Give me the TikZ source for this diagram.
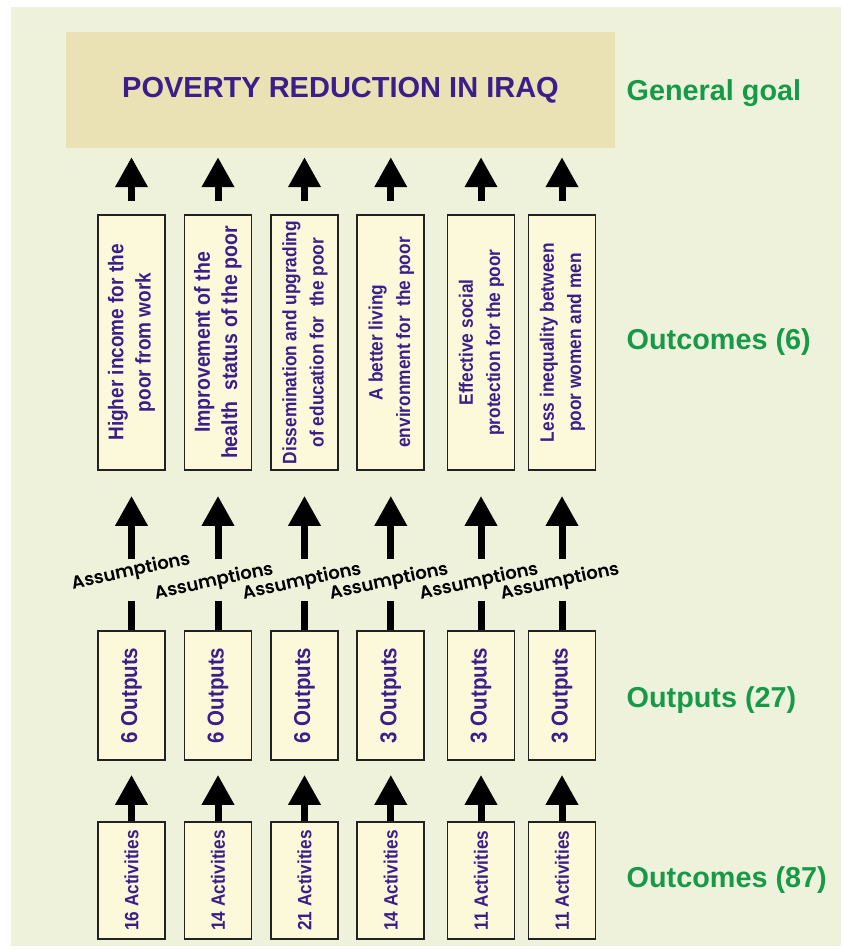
\documentclass[tikz,border=0pt]{standalone}
\usepackage{fontspec}
\setmainfont{Liberation Sans}
\newfontfamily\asmfont{Poppins SemiBold}
\usetikzlibrary{arrows.meta}
\definecolor{panel}{HTML}{EEF2DA}
\definecolor{goalfill}{HTML}{EAE2B4}
\definecolor{boxfill}{HTML}{FCF9DA}
\definecolor{txtpurple}{HTML}{3B1E8A}
\definecolor{lblgreen}{HTML}{17994A}
\definecolor{boxline}{HTML}{222222}
\newcommand\mytwoline[3]{\rotatebox{90}{\scalebox{1}[1.12]{\fontsize{#1}{24.5}\selectfont\bfseries\begin{tabular}{@{}c@{}}#2\\#3\end{tabular}}}}
\newcommand\myoneline[2]{\rotatebox{90}{\scalebox{1}[1.12]{\fontsize{#1}{24}\selectfont\bfseries #2}}}
\begin{document}
\begin{tikzpicture}[x=1pt,y=-1pt,
  obox/.style={draw=boxline, line width=1.8pt, fill=boxfill, minimum width=67pt, inner sep=0pt, text=txtpurple},
  upar/.style={line width=7pt, draw=black, -{Triangle[width=31pt,length=30pt]}},
  shaftline/.style={line width=7pt, draw=black},
  lvl/.style={anchor=base west, inner sep=0pt, text=lblgreen, font=\fontsize{28.8}{30}\selectfont\bfseries},
  asm/.style={rotate=12, inner sep=0pt, font=\asmfont\fontsize{18}{20}\selectfont}]
\useasboundingbox (0,0) rectangle (841,950);
\fill[white] (0,0) rectangle (841,950);
\fill[panel] (11,7) rectangle (841,946);
% goal
\node[fill=goalfill, minimum width=549pt, minimum height=116pt, inner sep=0pt,
      text=txtpurple, font=\fontsize{29}{30}\selectfont\bfseries] (goal) at (340.5,90) {POVERTY REDUCTION IN IRAQ};
% level labels
\node[lvl] (lg) at (626.5,100) {General goal};
\node[lvl] (lo) at (626.5,349) {Outcomes (6)};
\node[lvl] (lp) at (626.5,707) {Outputs (27)};
\node[lvl] (la) at (626.5,887) {Outcomes (87)};
% outcomes
\node[obox, minimum height=255pt] (c1) at (131.5,342.5) {\mytwoline{19}{Higher income for the}{poor from work}};
\node[obox, minimum height=255pt] (c2) at (218,342.5) {\mytwoline{19.5}{Improvement of the}{health\ \ status of the poor}};
\node[obox, minimum height=255pt] (c3) at (304.5,342.5) {\mytwoline{17.3}{Dissemination and upgrading}{of education for\ \ the poor}};
\node[obox, minimum height=255pt] (c4) at (390.8,342.5) {\mytwoline{17.3}{A better living}{environment for\ \ the poor}};
\node[obox, minimum height=255pt] (c5) at (481,342.5) {\mytwoline{17.3}{Effective social}{protection for the poor}};
\node[obox, minimum height=255pt] (c6) at (562,342.5) {\mytwoline{17.3}{Less inequality between}{poor women and men}};
% outputs
\node[obox, minimum height=129pt] (p1) at (131.5,695.5) {\myoneline{20.5}{6 Outputs}};
\node[obox, minimum height=129pt] (p2) at (218,695.5) {\myoneline{20.5}{6 Outputs}};
\node[obox, minimum height=129pt] (p3) at (304.5,695.5) {\myoneline{20.5}{6 Outputs}};
\node[obox, minimum height=129pt] (p4) at (390.8,695.5) {\myoneline{20.5}{3 Outputs}};
\node[obox, minimum height=129pt] (p5) at (481,695.5) {\myoneline{20.5}{3 Outputs}};
\node[obox, minimum height=129pt] (p6) at (562,695.5) {\myoneline{20.5}{3 Outputs}};
% activities
\node[obox, minimum height=117pt] (a1) at (131.5,880.5) {\myoneline{17.2}{16 Activities}};
\node[obox, minimum height=117pt] (a2) at (218,880.5) {\myoneline{17.2}{14 Activities}};
\node[obox, minimum height=117pt] (a3) at (304.5,880.5) {\myoneline{17.2}{21 Activities}};
\node[obox, minimum height=117pt] (a4) at (390.8,880.5) {\myoneline{17.2}{14 Activities}};
\node[obox, minimum height=117pt] (a5) at (481,880.5) {\myoneline{17.2}{11 Activities}};
\node[obox, minimum height=117pt] (a6) at (562,880.5) {\myoneline{17.2}{11 Activities}};
% assumptions
\node[asm] (s1) at (131,572) {Assumptions};
\node[asm] (s2) at (214,582) {Assumptions};
\node[asm] (s3) at (302,582) {Assumptions};
\node[asm] (s4) at (389,582) {Assumptions};
\node[asm] (s5) at (479,582) {Assumptions};
\node[asm] (s6) at (560,582) {Assumptions};
% connectors
\foreach \i in {1,...,6}{
  \draw[upar, shorten <=13pt, shorten >=9pt] (c\i.north) -- (c\i.north |- goal.south);
  \path (c\i.south) ++(0,88) coordinate (m\i);
  \path (c\i.south) ++(0,130) coordinate (n\i);
  \draw[upar, shorten >=25pt] (m\i) -- (c\i.south);
  \draw[shaftline] (p\i.north) -- (n\i);
  \draw[upar, shorten >=14pt] (a\i.north) -- (p\i.south);
}
\end{tikzpicture}
\end{document}
